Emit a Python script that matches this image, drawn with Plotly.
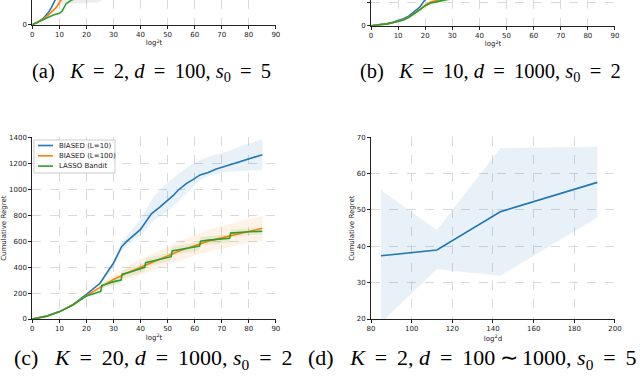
import plotly.graph_objects as go

BLUE = '#1f77b4'
ORANGE = '#ff7f0e'
GREEN = '#2ca02c'

# (a) K=2, d=100, s0=5  (only the bottom of the panel is visible)
a_blue_x = [0, 2, 4, 6, 7, 8, 9, 10]
a_blue_y = [0, 10, 25, 50, 68, 88, 112, 135]
a_orange_x = [0, 2, 4, 6, 8, 9, 10, 11, 12]
a_orange_y = [0, 10, 22, 40, 60, 72, 90, 105, 120]
a_green_x = [0, 2, 4, 6, 8, 10, 11, 12.5, 14.5, 17, 20]
a_green_y = [0, 10, 22, 30, 40, 46, 55, 85, 100, 108, 115]
a_band_x = [9, 12, 16, 20, 24, 26]
a_band_lo = [75, 84, 86, 88, 90, 100]
a_band_hi = [140, 140, 140, 140, 140, 140]

# (b) K=10, d=1000, s0=2
b_blue_x = [0, 2, 4, 6, 8, 10, 12, 14, 16, 18, 20, 22]
b_blue_y = [0, 2, 5, 9, 15, 22, 31, 43, 62, 82, 115, 150]
b_orange_x = [0, 2, 4, 6, 8, 10, 12, 14, 16, 18, 20, 22, 25, 28, 32]
b_orange_y = [0, 2, 4, 8, 13, 19, 26, 38, 53, 71, 90, 104, 113, 120, 130]
b_green_x = [0, 2, 4, 6, 8, 10, 12, 14, 16, 18, 20, 22, 25, 28, 32]
b_green_y = [0, 2, 4, 8, 13, 18, 25, 37, 52, 70, 88, 100, 107, 113, 125]
b_band_x = [15, 20, 25, 30, 35]
b_band_lo = [40, 80, 100, 112, 120]
b_band_hi = [48, 100, 125, 140, 150]

# (c) K=20, d=1000, s0=2
c_blue_x = [0, 5, 10, 15, 20, 22, 25, 28, 30, 33, 35, 40, 44, 47, 50, 52, 54, 57, 59.5, 62, 65, 68, 74, 80, 85]
c_blue_y = [0, 22, 57, 110, 190, 225, 275, 370, 430, 557, 600, 690, 810, 860, 910, 950, 994, 1045, 1076, 1110, 1128, 1156, 1194, 1235, 1266]
c_blue_band_x = [25, 30, 33, 36, 40, 45, 50, 54, 58, 62, 66, 72, 78, 85]
c_blue_band_hi = [280, 450, 590, 670, 770, 950, 1050, 1120, 1180, 1225, 1255, 1290, 1340, 1385]
c_blue_band_lo = [262, 400, 530, 590, 640, 760, 830, 905, 990, 1070, 1110, 1135, 1140, 1148]

c_orange_x = [0, 5, 10, 15, 20, 25, 30, 35, 40, 45, 50, 55, 60, 65, 70, 75, 80, 85]
c_orange_y = [0, 20, 55, 110, 180, 245, 305, 355, 400, 445, 490, 530, 565, 600, 625, 650, 675, 699]
c_orange_band_x = [20, 25, 30, 35, 40, 45, 50, 55, 60, 65, 70, 75, 80, 85]
c_orange_band_hi = [190, 270, 340, 405, 460, 510, 560, 605, 645, 685, 715, 745, 770, 790]
c_orange_band_lo = [170, 230, 270, 305, 340, 380, 420, 455, 490, 520, 545, 565, 585, 600]

c_green_x = [0, 5, 10, 15, 20, 25.3, 25.7, 30, 32.8, 33.2, 36, 41.5, 41.9, 45, 51.3, 51.7, 55, 61.8, 62.2, 65, 72.9, 73.3, 80, 85]
c_green_y = [0, 20, 55, 108, 178, 212, 258, 288, 300, 345, 360, 398, 434, 450, 480, 524, 535, 562, 600, 608, 622, 662, 672, 676]
c_green_band_hi = [0, 22, 60, 115, 190, 230, 275, 315, 330, 375, 392, 430, 466, 482, 512, 556, 567, 594, 632, 640, 652, 690, 698, 700]
c_green_band_lo = [0, 18, 50, 101, 166, 194, 241, 261, 270, 315, 328, 366, 402, 418, 448, 492, 503, 530, 568, 576, 592, 634, 646, 652]

# (d) K=2, d=100~1000, s0=5
d_x = [84.9, 112.4, 143.6, 191.3]
d_y = [37.4, 39.0, 49.5, 57.6]
d_hi = [55.5, 44.5, 67.0, 67.4]
d_lo = [19.0, 33.7, 31.9, 47.9]

legend_names = ['BIASED (L=10)', 'BIASED (L=100)', 'LASSO Bandit']
legend_colors = [BLUE, ORANGE, GREEN]


def line(x, y, color, xa, ya, name=None):
    return go.Scatter(x=x, y=y, mode='lines', name=name, showlegend=False,
                      line=dict(color=color, width=1.6), xaxis=xa, yaxis=ya)


def band(x, lo, hi, fill, xa, ya):
    return go.Scatter(x=x + x[::-1], y=hi + lo[::-1], fill='toself',
                      fillcolor=fill, line=dict(width=0), mode='lines',
                      hoverinfo='skip', showlegend=False, xaxis=xa, yaxis=ya)


fig = go.Figure()

fig.add_trace(band(a_band_x, a_band_lo, a_band_hi, 'rgba(0,0,0,0.07)', 'x', 'y'))
fig.add_trace(line(a_blue_x, a_blue_y, BLUE, 'x', 'y'))
fig.add_trace(line(a_orange_x, a_orange_y, ORANGE, 'x', 'y'))
fig.add_trace(line(a_green_x, a_green_y, GREEN, 'x', 'y'))

fig.add_trace(band(b_band_x, b_band_lo, b_band_hi, 'rgba(255,127,14,0.12)', 'x2', 'y2'))
fig.add_trace(line(b_blue_x, b_blue_y, BLUE, 'x2', 'y2'))
fig.add_trace(line(b_orange_x, b_orange_y, ORANGE, 'x2', 'y2'))
fig.add_trace(line(b_green_x, b_green_y, GREEN, 'x2', 'y2'))

fig.add_trace(band(c_blue_band_x, c_blue_band_lo, c_blue_band_hi, 'rgba(31,119,180,0.1)', 'x3', 'y3'))
fig.add_trace(band(c_orange_band_x, c_orange_band_lo, c_orange_band_hi, 'rgba(255,127,14,0.1)', 'x3', 'y3'))
fig.add_trace(band(c_green_x, c_green_band_lo, c_green_band_hi, 'rgba(44,160,44,0.1)', 'x3', 'y3'))
fig.add_trace(line(c_blue_x, c_blue_y, BLUE, 'x3', 'y3', legend_names[0]))
fig.add_trace(line(c_orange_x, c_orange_y, ORANGE, 'x3', 'y3', legend_names[1]))
fig.add_trace(line(c_green_x, c_green_y, GREEN, 'x3', 'y3', legend_names[2]))

fig.add_trace(band(d_x, d_lo, d_hi, 'rgba(31,119,180,0.1)', 'x4', 'y4'))
fig.add_trace(line(d_x, d_y, BLUE, 'x4', 'y4'))

tick_font = dict(family='DejaVu Sans', size=7, color='#222')
axis_style = dict(showline=True, linecolor='#222', linewidth=1, ticks='outside',
                  ticklen=3, tickcolor='#222', tickfont=tick_font, automargin=False,
                  showgrid=True, gridcolor='#d9d9d9', griddash='dash', gridwidth=0.8,
                  zeroline=False)

left = [0.0505, 0.431]
right = [0.5797, 0.9609]
bottom = [0.1605, 0.6387]

fig.update_layout(
    width=640, height=380,
    margin=dict(l=0, r=0, t=0, b=0),
    paper_bgcolor='white', plot_bgcolor='white',
    showlegend=False,
    xaxis=dict(domain=left, anchor='y', range=[0, 90], dtick=10,
               title=dict(text='log<sup>2</sup>t', font=tick_font, standoff=2), **axis_style),
    yaxis=dict(domain=[0.935, 1.0], anchor='x', range=[0, 100], dtick=200, **axis_style),
    xaxis2=dict(domain=right, anchor='y2', range=[0, 90], dtick=10,
                title=dict(text='log<sup>2</sup>t', font=tick_font, standoff=2), **axis_style),
    yaxis2=dict(domain=[0.9324, 1.0], anchor='x2', range=[0, 113], dtick=100, **axis_style),
    xaxis3=dict(domain=left, anchor='y3', range=[0, 90], dtick=10,
                title=dict(text='log<sup>2</sup>t', font=tick_font, standoff=2), **axis_style),
    yaxis3=dict(domain=bottom, anchor='x3', range=[0, 1400], dtick=200,
                title=dict(text='Cumulative Regret', font=tick_font, standoff=1), **axis_style),
    xaxis4=dict(domain=right, anchor='y4', range=[80, 200], dtick=20,
                title=dict(text='log<sup>2</sup>d', font=tick_font, standoff=2), **axis_style),
    yaxis4=dict(domain=bottom, anchor='x4', range=[20, 70], dtick=10,
                title=dict(text='Cumulative Regret', font=tick_font, standoff=1), **axis_style),
)

# compact legend for panel (c), matplotlib style
W, H = 640, 380
fig.add_shape(type='rect', xref='paper', yref='paper',
              x0=34 / W, x1=115 / W, y0=1 - 173 / H, y1=1 - 140 / H,
              line=dict(color='#cccccc', width=1), fillcolor='rgba(255,255,255,0.85)')
for i, (name, color) in enumerate(zip(legend_names, legend_colors)):
    yy = 1 - (145.5 + i * 10.3) / H
    fig.add_shape(type='line', xref='paper', yref='paper',
                  x0=38 / W, x1=53 / W, y0=yy, y1=yy, line=dict(color=color, width=1.6))
    fig.add_annotation(x=57 / W, y=yy, xref='paper', yref='paper', text=name,
                       showarrow=False, xanchor='left', yanchor='middle',
                       font=dict(family='DejaVu Sans', size=7, color='#222'))

thin = '\u2009'
eq = f'&nbsp;{thin}={thin}&nbsp;'
tilde = f'{thin}∼{thin}'
captions = [
    (151 / W, 0.808, 'center', 20.5, f'(a)&nbsp;&nbsp;&nbsp;<i>K</i>{eq}2, <i>d</i>{eq}100, <i>s</i><sub>0</sub>{eq}5'),
    (490 / W, 0.808, 'center', 20.5, f'(b)&nbsp;&nbsp;&nbsp;<i>K</i>{eq}10, <i>d</i>{eq}1000, <i>s</i><sub>0</sub>{eq}2'),
    (153 / W, 0.055, 'center', 22, f'(c)&nbsp;&nbsp;&nbsp;<i>K</i>{eq}20, <i>d</i>{eq}1000, <i>s</i><sub>0</sub>{eq}2'),
    (639 / W, 0.055, 'right', 22, f'(d)&nbsp;&nbsp;&nbsp;<i>K</i>{eq}2, <i>d</i>{eq}100{tilde}1000, <i>s</i><sub>0</sub>{eq}5'),
]
for x, y, anchor, size, text in captions:
    fig.add_annotation(x=x, y=y, xref='paper', yref='paper', text=text,
                       showarrow=False, xanchor=anchor, yanchor='middle',
                       font=dict(family='Liberation Serif', size=size, color='black'))

# page body has an 8px default margin; drop it so the figure sits at the window corner
fig.write_html("out.html", config={'displayModeBar': False},
               post_script="document.body.style.margin='0';")
